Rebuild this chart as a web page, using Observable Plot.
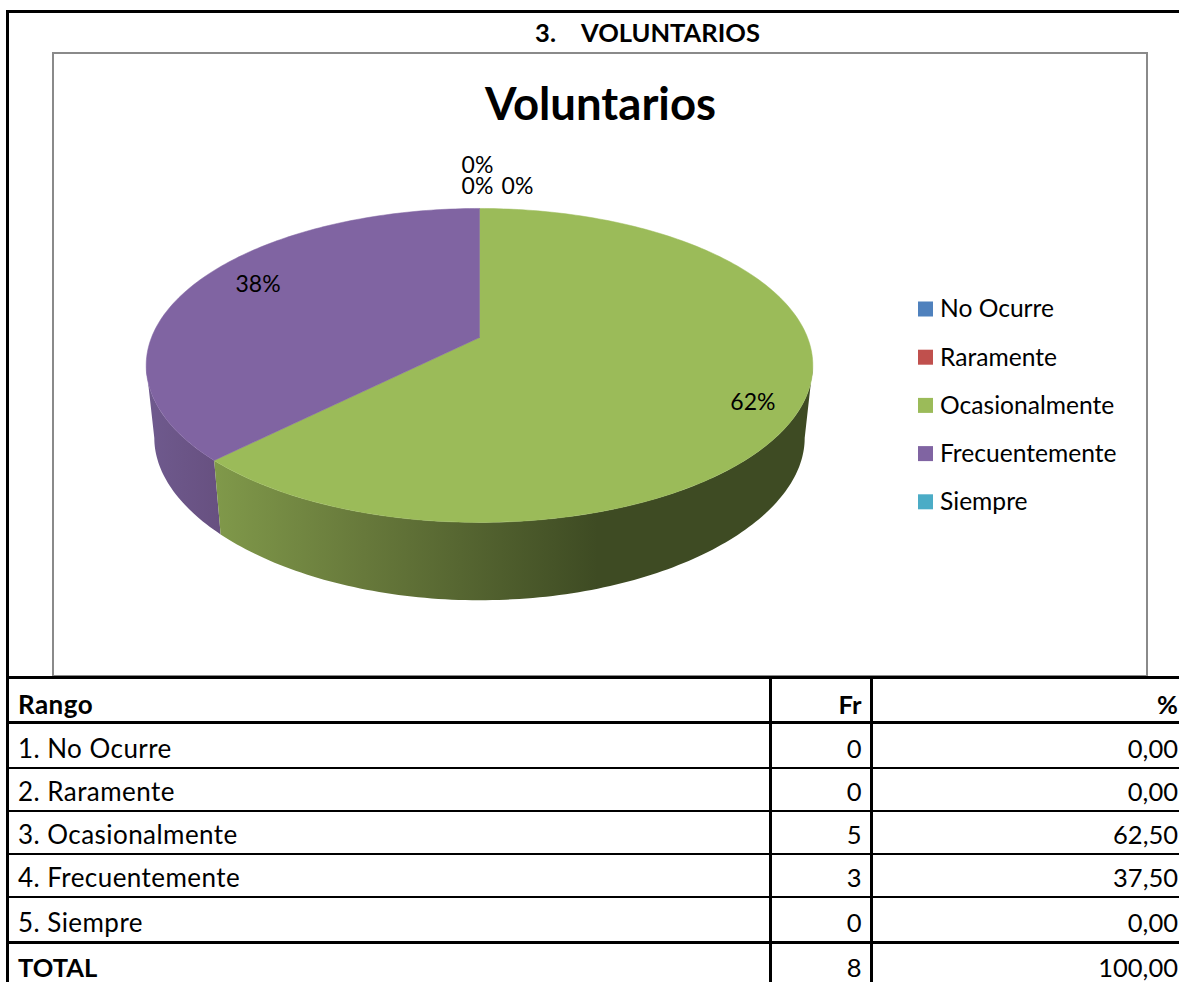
<!DOCTYPE html>
<html><head><meta charset="utf-8">
<script src="https://cdn.jsdelivr.net/npm/d3@7"></script>
<script src="https://cdn.jsdelivr.net/npm/@observablehq/plot@0.6"></script>
<style>
html,body{margin:0;padding:0;background:#fff;overflow:hidden}
#page{position:relative;width:1179px;height:982px;overflow:hidden;font-family:Lato,sans-serif;color:#000}
.frameT{position:absolute;left:6px;top:10px;width:1173px;height:3px;background:#000}
.frameL{position:absolute;left:6px;top:10px;width:3px;height:972px;background:#000}
#head{position:absolute;left:0;top:17px;width:1295px;text-align:center;font-weight:700;font-size:25.5px;line-height:30px;white-space:pre;word-spacing:2.5px}
#box{position:absolute;left:52px;top:52px;width:1092px;height:621px;border:2px solid #8a8a8a}
#chart{position:absolute;left:0;top:0}
#tbl{position:absolute;left:9px;top:676px;width:1175px;border-collapse:collapse;table-layout:fixed;font-size:25.5px}
#tbl td{padding:0 8px 0 9px;vertical-align:bottom;line-height:30px;white-space:nowrap;overflow:visible}
#tbl td.t{font-size:26px;letter-spacing:0.45px}
#tbl td.n{text-align:right}
#tbl td.p{text-align:right;padding-right:6px}
#tbl tr.b td{font-weight:700}
</style></head><body>
<div id="page">
<div id="box"></div><div class="frameT"></div><div class="frameL"></div>
<div id="head">3.   VOLUNTARIOS</div>
<div id="chart"></div>
<table id="tbl"></table>
</div>
<script>
const categories = ["No Ocurre","Raramente","Ocasionalmente","Frecuentemente","Siempre"];
const frequencies = [0,0,5,3,0];
const percentLabels = ["0%","0%","62%","38%","0%"];
const percentages = ["0,00","0,00","62,50","37,50","0,00"];
const colors = ["#4f81bd","#c0504d","#9bbb59","#8064a2","#4bacc6"];
const rowLabels = ["1. No Ocurre","2. Raramente","3. Ocasionalmente","4. Frecuentemente","5. Siempre"];

// Perspective of the tilted pie, in page pixels: top rim and bottom rim of the wall
const TOP = {cx:479, cy:337, Ay:152, By:328, kx:0.178, ky:0.178};
const BOT = {cx:479, cy:410, Ay:148, By:320, kx:0.178, ky:0.22};
const project = (frac, r, g=TOP) => {
  const a = frac*2*Math.PI, u = Math.sin(a)*r, v = -Math.cos(a)*r;
  return {x:g.cx+g.By*u/(1-g.kx*v), y:g.cy+g.Ay*v/(1-g.ky*v)};
};
const total = d3.sum(frequencies);
let acc = 0;
const slices = categories.map((c,i)=>{const s={cat:c,i,a0:acc/total,a1:(acc+frequencies[i])/total}; acc+=frequencies[i]; return s;});
const arcFracs = (a0,a1)=>{const n=Math.max(2,Math.ceil((a1-a0)*360));return d3.range(n+1).map(j=>a0+(a1-a0)*j/n);};

const tops = slices.filter(s=>s.a1>s.a0).flatMap(s=>[
  {cat:s.cat,...project(0,0)},
  ...arcFracs(s.a0,s.a1).map(f=>({cat:s.cat,...project(f,1)})),
  {cat:s.cat,...project(0,0)}
]);
const sideOf = (a0,a1)=>{
  const fr=arcFracs(a0,a1);
  return [...fr.map(f=>project(f,1)), ...fr.slice().reverse().map(f=>project(f,1,BOT))];
};
const green = slices[2], purple = slices[3];
// Only the visible part of the wall is drawn: it runs between the rim's two widest points
const widest = Math.acos(-TOP.kx)/(2*Math.PI);
const greenSide = sideOf(widest, green.a1);
const purpleSide = sideOf(purple.a0, 1-widest);

// Label anchors derive from each slice's mid-angle, nudged to where the chart places them
const labelNudge = [[-2,-172],[-2,-151],[0,13],[22,-6],[38,-151]];
const labels = slices.map((s,i)=>{
  const p = project((s.a0+s.a1)/2, s.a1>s.a0?0.85:0);
  return {text:percentLabels[i], x:p.x+labelNudge[i][0], y:p.y+labelNudge[i][1]};
});
// Legend rows
const legendLayout = {sx:918, size:15, tx:939.5, y0:309, step:48.2};
const legend = categories.map((c,i)=>({cat:c, y:legendLayout.y0+i*legendLayout.step}));

const gradient = (id,stops)=>()=>{
  const ns="http://www.w3.org/2000/svg";
  const g=document.createElementNS(ns,"g");
  const defs=document.createElementNS(ns,"defs");
  const lg=document.createElementNS(ns,"linearGradient");
  lg.setAttribute("id",id);
  for(const [o,c] of stops){const s=document.createElementNS(ns,"stop");s.setAttribute("offset",o);s.setAttribute("stop-color",c);lg.appendChild(s);}
  defs.appendChild(lg);g.appendChild(defs);return g;
};

const W=1179,H=676;
const plot = Plot.plot({
  width:W,height:H,margin:0,
  style:{background:"transparent",fontFamily:"Lato,sans-serif",color:"#000"},
  x:{domain:[0,W],range:[0,W],axis:null},
  y:{domain:[0,H],range:[0,H],axis:null},
  color:{domain:categories,range:colors},
  marks:[
    gradient("gGreen",[[0,"#80994a"],[0.25,"#67793b"],[0.64,"#3e4b23"],[1,"#3e4b23"]]),
    gradient("gPurple",[[0,"#6f5a8e"],[1,"#675080"]]),
    Plot.line(purpleSide,{x:"x",y:"y",fill:"url(#gPurple)",stroke:"none"}),
    Plot.line(greenSide,{x:"x",y:"y",fill:"url(#gGreen)",stroke:"none"}),
    Plot.line(tops,{x:"x",y:"y",z:"cat",fill:"cat",stroke:"cat",strokeWidth:0.5}),
    Plot.text(["Voluntarios"],{x:()=>600,y:()=>105,text:d=>d,fontSize:45.5,fontWeight:700,fill:"#000"}),
    Plot.text(labels,{x:"x",y:"y",text:"text",fontSize:23,fill:"#000"}),
    Plot.rect(legend,{x1:()=>legendLayout.sx,x2:()=>legendLayout.sx+legendLayout.size,y1:d=>d.y-legendLayout.size/2,y2:d=>d.y+legendLayout.size/2,fill:"cat"}),
    Plot.text(legend,{x:()=>legendLayout.tx,y:"y",text:"cat",textAnchor:"start",fontSize:24.6,fill:"#000"})
  ]
});
document.getElementById("chart").appendChild(plot);

// Table under the chart
const rows=[
  {c:["Rango","Fr","%"],h:45,bw:3,b:true,pb:2},
  ...rowLabels.map((r,i)=>({c:[r,String(frequencies[i]),percentages[i]],h:i==4?46:(i==0?45:43),bw:i==4?3:2,pb:4})),
  {c:["TOTAL",String(total),"100,00"],h:40,bw:0,total:true,pb:1}
];
const t=document.getElementById("tbl");
const cg=document.createElement("colgroup");
[761,101,313].forEach(w=>{const c=document.createElement("col");c.style.width=w+"px";cg.appendChild(c);});
t.appendChild(cg);
rows.forEach((r,ri)=>{
  const tr=document.createElement("tr");
  tr.style.height=r.h+"px";
  if(r.b)tr.className="b";
  r.c.forEach((v,ci)=>{
    const td=document.createElement("td");
    td.textContent=v;
    td.className=["t","n","p"][ci];
    td.style.height=r.h+"px";
    td.style.boxSizing="border-box";
    if(ri==0)td.style.borderTop="3px solid #000";
    td.style.borderBottom=r.bw?r.bw+"px solid #000":"none";
    if(ci<2)td.style.borderRight="3px solid #000";
    td.style.paddingBottom=r.pb+"px";
    if(r.total&&ci==0){td.style.fontWeight="700";td.style.letterSpacing="0";td.style.fontSize="25.5px";}
    tr.appendChild(td);
  });
  t.appendChild(tr);
});
</script>
</body></html>
